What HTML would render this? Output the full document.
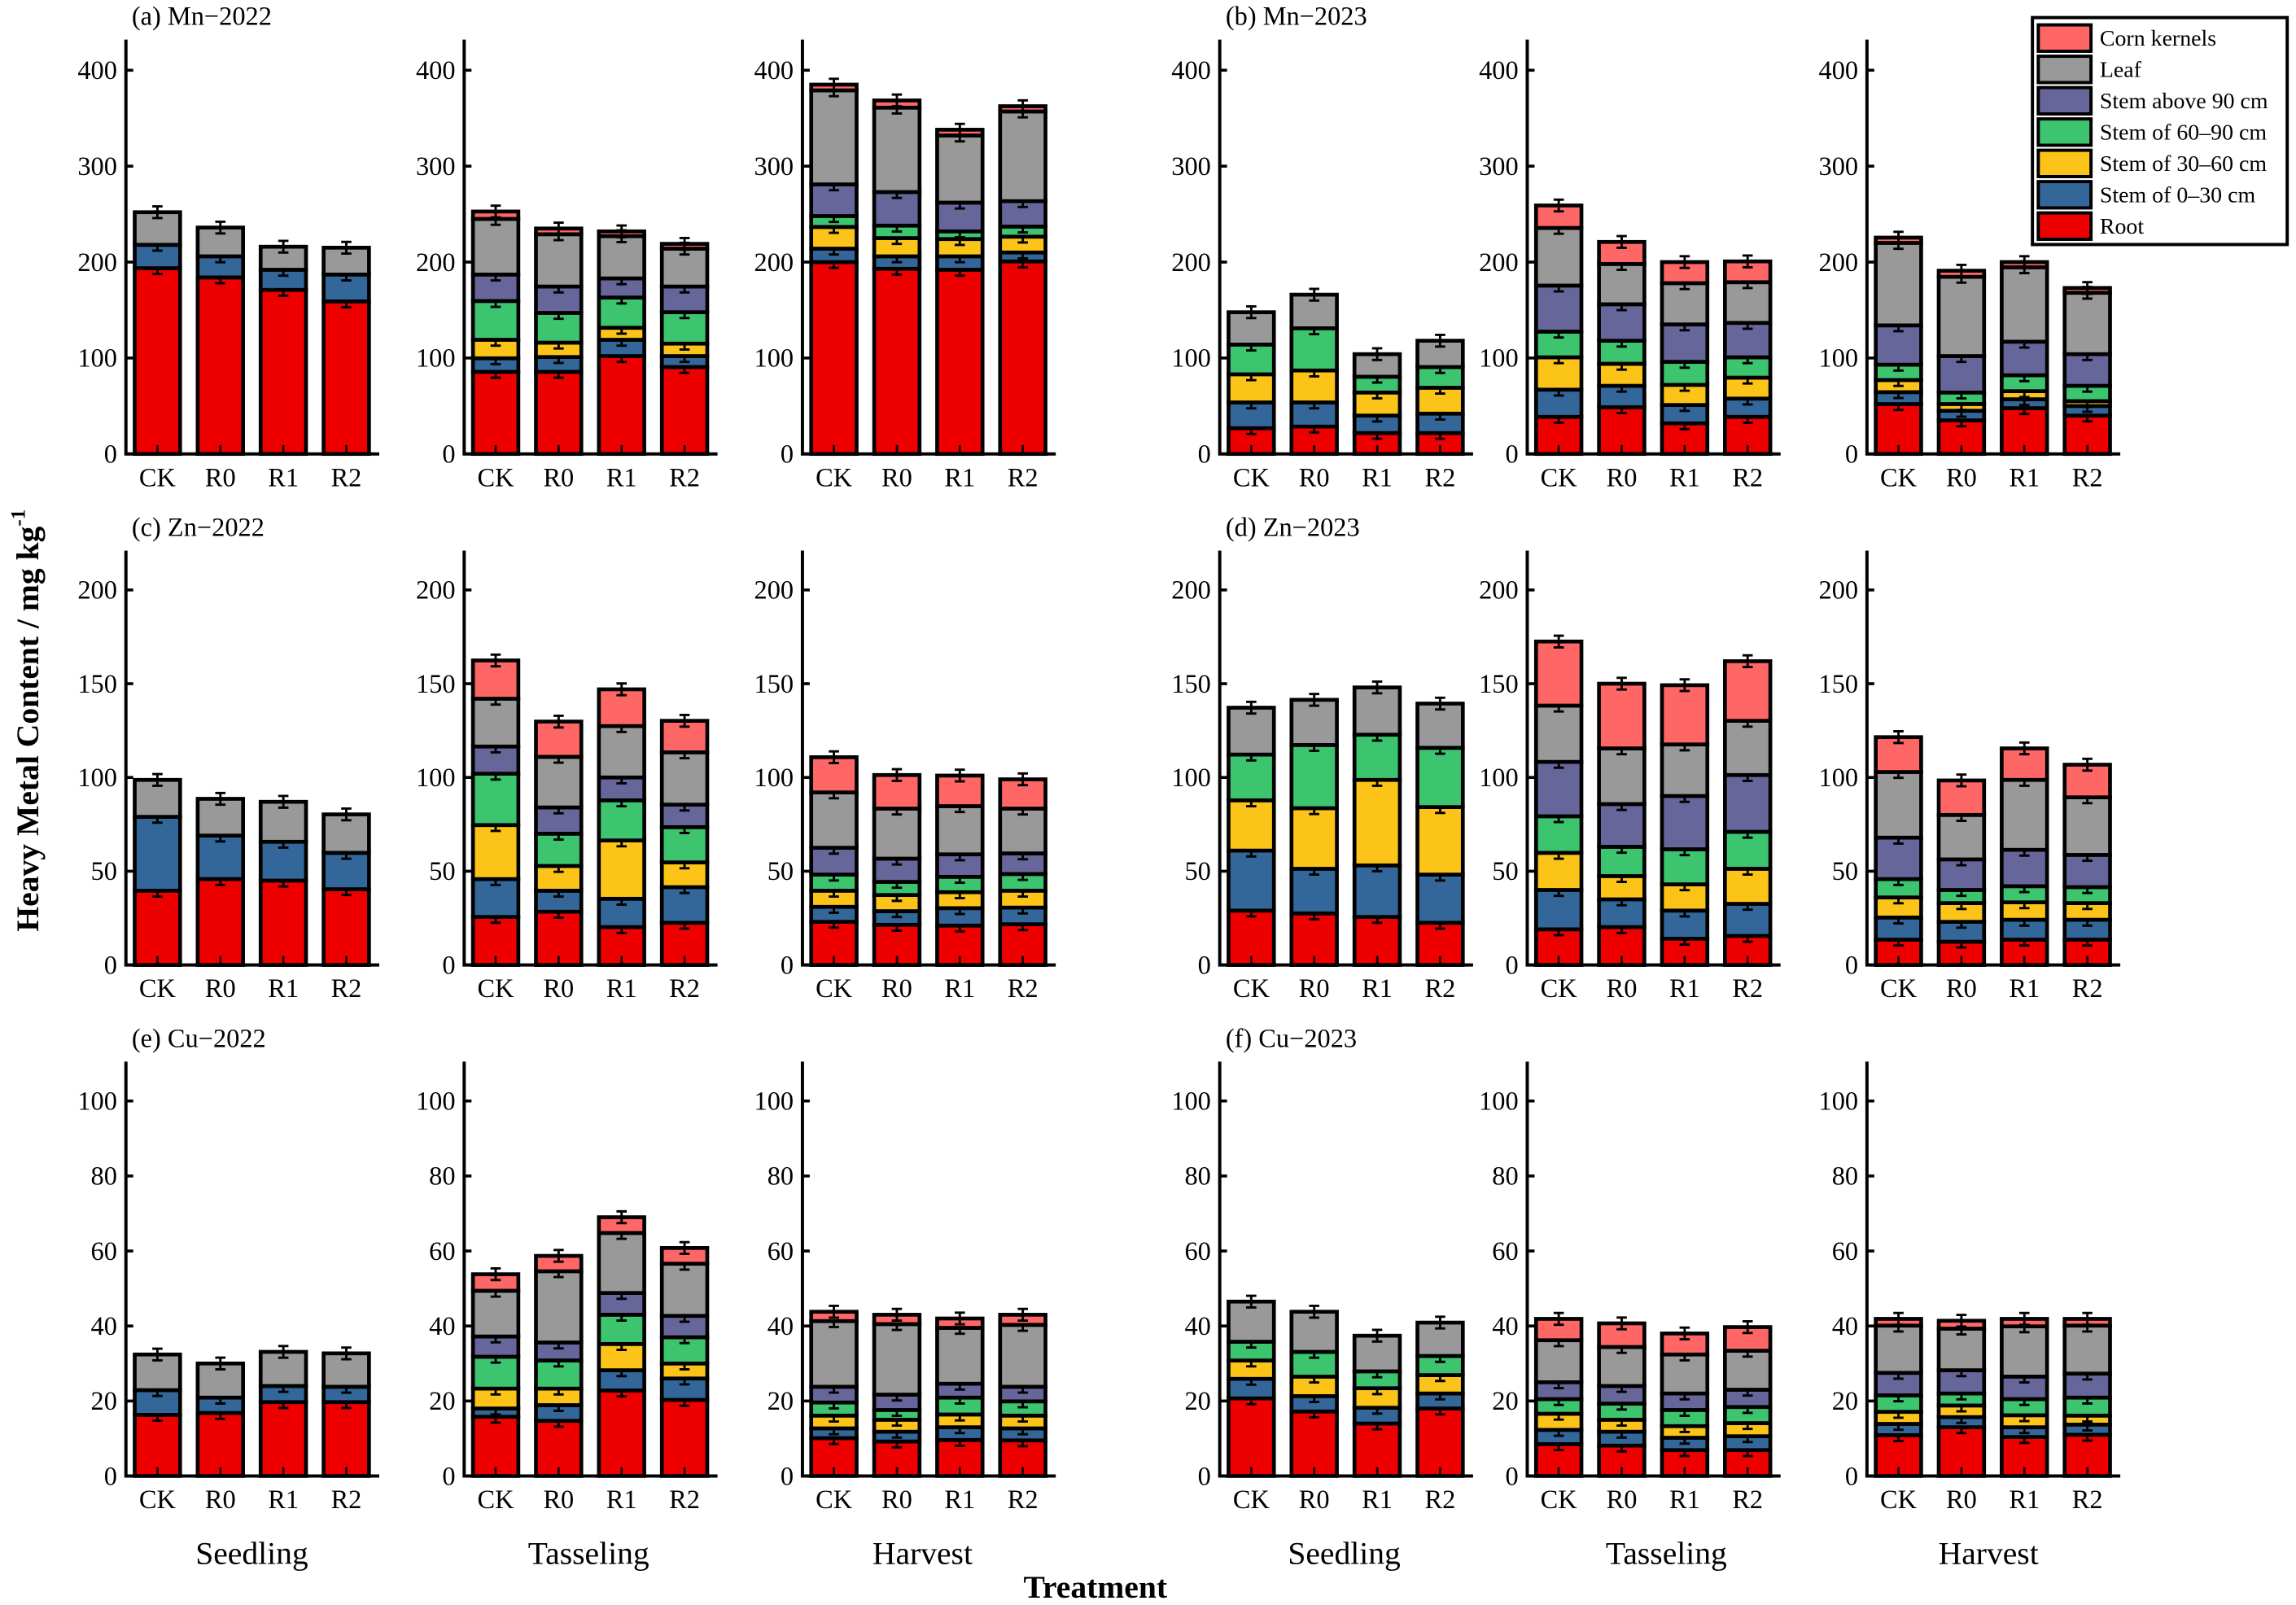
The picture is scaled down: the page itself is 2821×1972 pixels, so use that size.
<!DOCTYPE html>
<html><head><meta charset="utf-8"><style>
html,body{margin:0;padding:0;background:#fff;}
svg{display:block;}
text{font-family:"Liberation Serif",serif;fill:#000;}
</style></head><body>
<svg id="chart" xmlns="http://www.w3.org/2000/svg" width="2821" height="1972" viewBox="0 0 1568 1096.1" preserveAspectRatio="none">
<rect x="0" y="0" width="1568" height="1096.1" fill="#fff"/>
<g id="plots"></g>
<text transform="translate(26,492) rotate(-90)" text-anchor="middle" font-size="22" font-weight="bold">Heavy Metal Content / mg kg<tspan font-size="14" dy="-9">-1</tspan></text>
<text x="748" y="1091" text-anchor="middle" font-size="22" font-weight="bold">Treatment</text>
<g id="legend"></g>
</svg>
<script>
const categories = ['CK','R0','R1','R2'];
const stages = ['Seedling','Tasseling','Harvest'];
const parts = ['Root','Stem of 0–30 cm','Stem of 30–60 cm','Stem of 60–90 cm','Stem above 90 cm','Leaf','Corn kernels'];
const partColors = ['#ee0000','#336699','#fcc419','#3cc46f','#66669a','#999999','#ff6666'];
const panelTitles = ['(a) Mn−2022','(b) Mn−2023','(c) Zn−2022','(d) Zn−2023','(e) Cu−2022','(f) Cu−2023'];
const mnTicks = [0,100,200,300,400];
const znTicks = [0,50,100,150,200];
const cuTicks = [0,20,40,60,80,100];
const rowMax = [432,221,110.5];

// each bar: [root, stem0-30, stem30-60, stem60-90, stem>90, leaf, kernels]
const mn22Seedling = [[193.6,24.4,0,0,0,34,0],[184,22,0,0,0,30,0],[171,21,0,0,0,24,0],[159,28,0,0,0,28,0]];
const mn22Tasseling = [[85.6,14.1,19.3,40.4,27.6,58,7.7],[85.6,15.4,15,31,27.5,54.5,6],[102,17,12.5,31.5,20,44,5],[90.6,11.4,13,32.7,26.8,39.5,5]];
const mn22Harvest = [[200,14,22.6,11.4,33,98,6],[193,13,19,13,35,88,7.5],[192,14,18,8,30,70,6],[200.7,9.3,16.5,10.5,26.5,93.5,5.5]];
const mn23Seedling = [[26.8,26.9,29.3,31,0,33.7,0],[28.5,25.2,33.3,44,0,35,0],[21.8,18.2,24,16.5,0,23.5,0],[21.8,20.2,27,21.6,0,27.4,0]];
const mn23Tasseling = [[38.6,28.4,33.7,26.8,48,60.1,23.4],[48.7,22.3,23,24,38,42,23],[31.9,19.1,21,24,39,43,22],[38.6,19.1,21.8,21.2,35.9,42.4,21.7]];
const mn23Harvest = [[52,12.4,12.6,16,41,86,5.5],[35,10,7,12,38,82.6,6.4],[47.7,9.3,8.4,16.6,35,77.6,5.4],[40,10,5,16,33,64,5]];
const zn22Seedling = [[39.6,39.4,0,0,0,19.7,0],[45.8,23.2,0,0,0,19.6,0],[45,20.7,0,0,0,21.3,0],[40.4,19.4,0,0,0,20.5,0]];
const zn22Tasseling = [[25.6,20.2,28.8,27.4,14.5,25.5,20.4],[28.4,11.2,13.2,17.2,14,27,18.8],[20.2,15.1,31.1,21.4,12.2,27.4,19.6],[22.5,19,13.2,18.8,12,27.9,16.8]];
const zn22Harvest = [[23,8,8.6,8.6,14.3,29.5,18.8],[21.4,7.3,8.6,7,12.4,26.7,17.9],[21,9.3,8.5,8.2,12,25.7,16.3],[21.7,8.9,9,8.9,11,23.9,15.6]];
const zn23Seedling = [[29,32,26.8,24.4,0,25,0],[27.5,23.8,32.3,33.7,0,24.1,0],[25.6,27.5,45.6,24.1,0,25.2,0],[22.5,25.7,36,31.6,0,23.6,0]];
const zn23Tasseling = [[19,21,19.8,19.5,29,30,34.2],[20.2,14.8,12.4,15.6,22.8,29.7,34.5],[14,15,14,18.7,28.4,27.5,31.6],[15.5,17.1,18.7,19.7,30.3,28.9,31.8]];
const zn23Harvest = [[13.5,11.8,10.7,9.8,22.1,35,18.6],[12.4,10.6,10,7,16.3,23.7,18.4],[13.5,10.6,9.3,8.6,19.4,37.3,16.8],[13.5,10.6,8.9,8.5,17.2,30.7,17.4]];
const cu22Seedling = [[16.3,6.6,0,0,0,9.5,0],[16.8,4.1,0,0,0,9.1,0],[19.7,4.3,0,0,0,9.1,0],[19.7,4.1,0,0,0,8.9,0]];
const cu22Tasseling = [[15.8,2.2,5.3,8.5,5.4,12.2,4.4],[14.7,4.2,4.4,7.5,4.8,19,4.1],[22.8,5.4,7,7.8,5.8,16,4.2],[20.3,5.7,4,7,5.7,13.9,4.2]];
const cu22Harvest = [[10.1,2.6,3.4,3.5,4.2,17.5,2.5],[9.2,2.6,3.2,2.6,4.1,18.8,2.5],[9.6,3.4,3.4,4.5,3.7,14.9,2.5],[9.5,3.2,3.4,3.8,3.9,16.5,2.7]];
const cu23Seedling = [[20.7,5.2,4.9,5,0,10.7,0],[17.2,4.1,5.2,6.6,0,10.7,0],[14,4.2,5.2,4.5,0,9.5,0],[18,4,4.9,5.1,0,8.9,0]];
const cu23Tasseling = [[8.5,3.8,4.3,3.9,4.5,11.2,5.7],[8.1,3.7,3.2,4.3,4.7,10.4,6.3],[6.9,3.3,3.1,4.3,4.4,10.4,5.6],[6.9,3.7,3.5,4.3,4.6,10.4,6.3]];
const cu23Harvest = [[10.9,3,3.2,4.4,6,12.6,1.8],[13,2.7,3.1,3.2,6.2,11.1,2.1],[10.4,2.6,3.2,4.3,6,13.4,2],[11,2.7,2.4,4.8,6.4,12.8,1.8]];

const rowData = [
  [mn22Seedling,mn22Tasseling,mn22Harvest,mn23Seedling,mn23Tasseling,mn23Harvest],
  [zn22Seedling,zn22Tasseling,zn22Harvest,zn23Seedling,zn23Tasseling,zn23Harvest],
  [cu22Seedling,cu22Tasseling,cu22Harvest,cu23Seedling,cu23Tasseling,cu23Harvest]
];
const rowTicks = [mnTicks,znTicks,cuTicks];

const NS = 'http://www.w3.org/2000/svg';
const axisX = [86,317,548,833,1043,1275];
const stageX = [172,402,630,918,1138,1358];
const rowBase = [310,659,1008];
const rowTop = [27,376,725];
const axisLen = 173;
const plots = document.getElementById('plots');
function mk(tag, attrs, parent){
  const e = document.createElementNS(NS, tag);
  for (const k in attrs) e.setAttribute(k, attrs[k]);
  (parent||plots).appendChild(e);
  return e;
}
function yScale(r, v){ return rowBase[r] - v / rowMax[r] * (rowBase[r] - rowTop[r]); }
function xScale(c, i){ return axisX[c] + 21.5 + i * 43; }

for (let r = 0; r < 3; r++) {
  const t = mk('text', {x: 90, y: rowTop[r] - 10, 'font-size': 18});
  
  
  t.textContent = panelTitles[r*2];
  const t2 = mk('text', {x: 837, y: rowTop[r] - 10, 'font-size': 18});
  
  
  t2.textContent = panelTitles[r*2+1];
  for (let c = 0; c < 6; c++) {
    const g = mk('g', {});
    
    
    const bars = rowData[r][c];
    bars.forEach((vals, i) => {
      const cx = xScale(c, i);
      let cum = 0;
      vals.forEach((v, p) => {
        if (!v) return;
        const y0 = yScale(r, cum);
        cum += v;
        const y1 = yScale(r, cum);
        const rc = mk('rect', {x: cx - 15.5, y: y1, width: 31, height: y0 - y1, fill: partColors[p], stroke: '#000', 'stroke-width': 2.6}, g);
        
        
        const eb = mk('path', {d: `M${cx},${y1-4}V${y1+4}M${cx-3.5},${y1-4}H${cx+3.5}M${cx-3.5},${y1+4}H${cx+3.5}`, stroke: '#000', 'stroke-width': 1.6, fill: 'none'}, g);
        
        
      });
      mk('line', {x1: cx, x2: cx, y1: rowBase[r], y2: rowBase[r] - 6, stroke: '#000', 'stroke-width': 1.5}, g);
      const lb = mk('text', {x: cx, y: rowBase[r] + 22, 'font-size': 18, 'text-anchor': 'middle'}, g);
      
      
      lb.textContent = categories[i];
    });
    const ax = mk('path', {d: `M${axisX[c]},${rowTop[r]}V${rowBase[r]}H${axisX[c]+axisLen}`, stroke: '#000', 'stroke-width': 2.2, fill: 'none'}, g);
    
    
    rowTicks[r].forEach(tv => {
      const ty = yScale(r, tv);
      mk('line', {x1: axisX[c], x2: axisX[c] + 5, y1: ty, y2: ty, stroke: '#000', 'stroke-width': 2}, g);
      const tl = mk('text', {x: axisX[c] - 6, y: ty + 6, 'font-size': 18, 'text-anchor': 'end'}, g);
      
      
      tl.textContent = tv;
    });
  }
}
for (let c = 0; c < 6; c++) {
  const s = mk('text', {x: stageX[c], y: 1068, 'font-size': 22, 'text-anchor': 'middle'});
  
  
  s.textContent = stages[c % 3];
}
const lg = document.getElementById('legend');
mk('rect', {x: 1388, y: 12, width: 174, height: 155, fill: '#fff', stroke: '#000', 'stroke-width': 2.2}, lg);
for (let k = 0; k < 7; k++) {
  const p = 6 - k;
  const y = 17 + k * 21.4;
  const sw = mk('rect', {x: 1392, y: y, width: 36, height: 18, fill: partColors[p], stroke: '#000', 'stroke-width': 2.2}, lg);
  
  
  const tx = mk('text', {x: 1434, y: y + 14, 'font-size': 15.5}, lg);
  
  
  tx.textContent = parts[p];
}
</script>
</body></html>
